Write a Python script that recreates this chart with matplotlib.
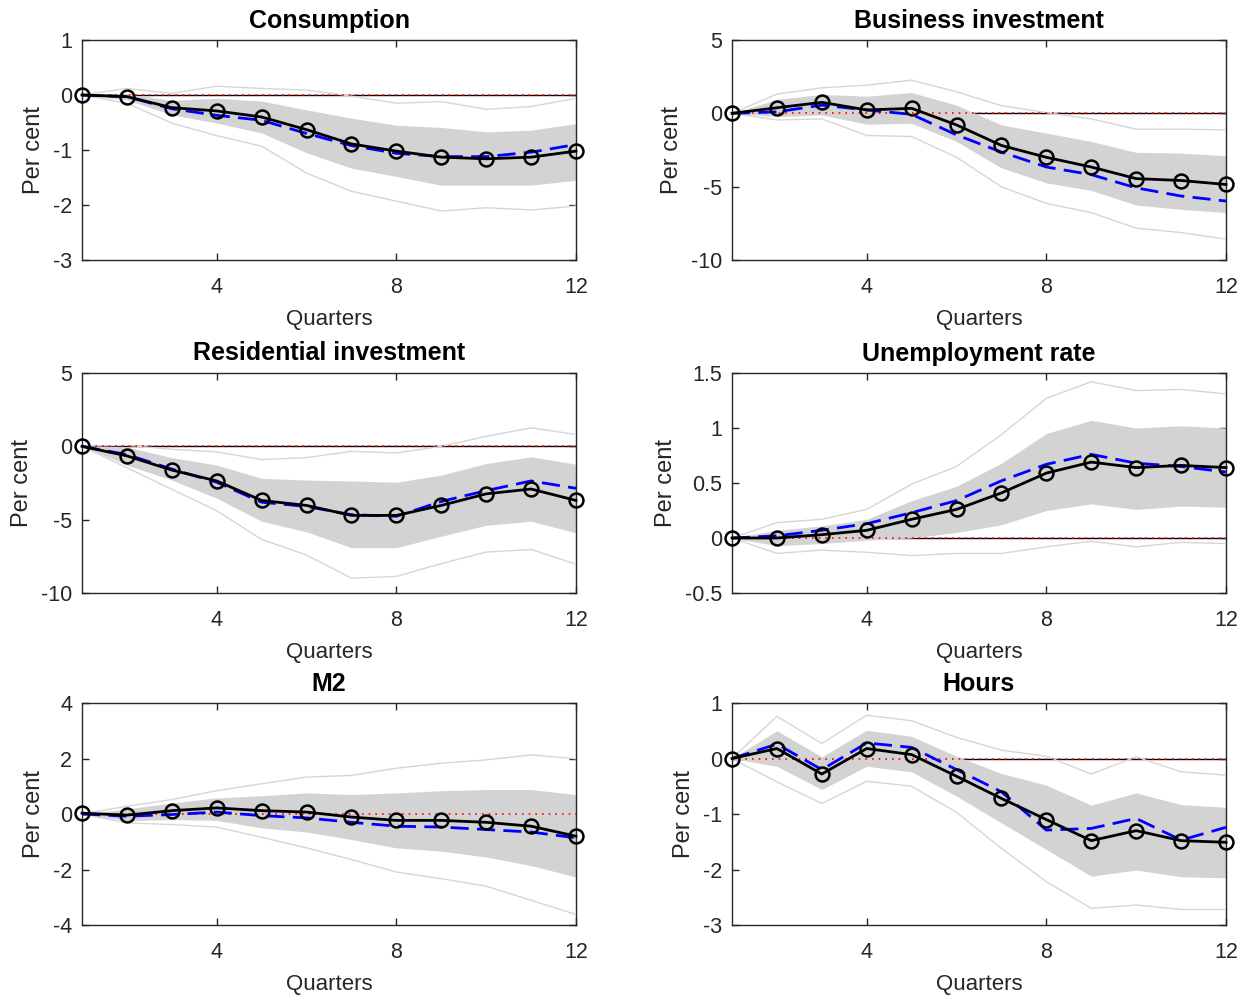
import matplotlib
matplotlib.use('Agg')
import matplotlib.pyplot as plt
import numpy as np

plt.rcParams['font.family'] = ['Liberation Sans', 'DejaVu Sans']
plt.rcParams['axes.unicode_minus'] = False

quarters = np.arange(1, 13)

# Consumption
cons_median = [0, -0.03, -0.23, -0.29, -0.40, -0.63, -0.89, -1.02, -1.13, -1.16, -1.13, -1.02]
cons_alt = [0, -0.03, -0.25, -0.37, -0.46, -0.70, -0.92, -1.06, -1.12, -1.12, -1.04, -0.90]
cons_band_hi = [0, 0.02, -0.10, -0.06, -0.11, -0.27, -0.42, -0.55, -0.59, -0.67, -0.64, -0.52]
cons_band_lo = [0, -0.09, -0.36, -0.51, -0.69, -1.05, -1.33, -1.48, -1.64, -1.64, -1.64, -1.55]
cons_out_hi = [0, 0.12, 0.03, 0.16, 0.12, 0.09, -0.02, -0.15, -0.12, -0.26, -0.21, -0.06]
cons_out_lo = [0, -0.15, -0.51, -0.74, -0.93, -1.42, -1.75, -1.93, -2.11, -2.05, -2.09, -2.02]

# Business investment
binv_median = [0, 0.38, 0.75, 0.23, 0.34, -0.79, -2.19, -3.00, -3.66, -4.45, -4.58, -4.85]
binv_alt = [0, 0.10, 0.56, 0.23, -0.07, -1.47, -2.64, -3.66, -4.18, -5.08, -5.64, -5.98]
binv_band_hi = [0, 0.95, 1.29, 1.17, 1.42, 0.56, -0.79, -1.35, -1.92, -2.66, -2.71, -2.89]
binv_band_lo = [0, -0.23, -0.11, -0.74, -0.68, -1.92, -3.72, -4.74, -5.26, -6.25, -6.55, -6.77]
binv_out_hi = [0, 1.31, 1.74, 1.92, 2.26, 1.47, 0.52, 0.05, -0.38, -1.08, -1.08, -1.13]
binv_out_lo = [0, -0.45, -0.38, -1.51, -1.58, -3.00, -5.01, -6.14, -6.77, -7.83, -8.13, -8.58]

# Residential investment
rinv_median = [0, -0.65, -1.62, -2.36, -3.69, -4.03, -4.71, -4.71, -4.03, -3.24, -2.91, -3.69]
rinv_alt = [0, -0.56, -1.55, -2.45, -3.81, -4.10, -4.66, -4.77, -3.76, -3.02, -2.36, -2.86]
rinv_band_hi = [0, -0.05, -0.77, -1.28, -2.18, -2.30, -2.36, -2.45, -1.96, -1.17, -0.72, -1.22]
rinv_band_lo = [0, -1.28, -2.30, -3.54, -5.11, -5.83, -6.91, -6.91, -6.13, -5.38, -5.11, -5.90]
rinv_out_hi = [0, 0.07, -0.20, -0.38, -0.90, -0.77, -0.34, -0.45, 0.0, 0.68, 1.26, 0.81]
rinv_out_lo = [0, -1.46, -2.93, -4.39, -6.35, -7.41, -8.99, -8.87, -8.00, -7.21, -7.03, -8.04]

# Unemployment rate
unemp_median = [0, 0.0, 0.03, 0.07, 0.17, 0.26, 0.41, 0.59, 0.69, 0.64, 0.66, 0.64]
unemp_alt = [0, 0.02, 0.07, 0.13, 0.23, 0.34, 0.52, 0.67, 0.76, 0.68, 0.65, 0.60]
unemp_band_hi = [0, 0.07, 0.11, 0.17, 0.34, 0.47, 0.68, 0.95, 1.07, 1.00, 1.02, 1.00]
unemp_band_lo = [0, -0.07, -0.05, -0.02, 0.0, 0.05, 0.12, 0.25, 0.31, 0.26, 0.29, 0.28]
unemp_out_hi = [0, 0.14, 0.17, 0.26, 0.49, 0.65, 0.94, 1.27, 1.42, 1.34, 1.35, 1.31]
unemp_out_lo = [0, -0.14, -0.11, -0.13, -0.16, -0.14, -0.14, -0.08, -0.03, -0.08, -0.04, -0.05]

# M2
m2_median = [0.03, -0.04, 0.12, 0.22, 0.12, 0.07, -0.11, -0.23, -0.23, -0.30, -0.44, -0.80]
m2_alt = [0, -0.08, -0.02, 0.07, -0.06, -0.14, -0.30, -0.44, -0.47, -0.56, -0.65, -0.86]
m2_band_hi = [0, 0.18, 0.40, 0.58, 0.66, 0.76, 0.70, 0.76, 0.84, 0.88, 0.88, 0.70]
m2_band_lo = [0, -0.24, -0.20, -0.23, -0.50, -0.65, -0.92, -1.22, -1.34, -1.55, -1.86, -2.27]
m2_out_hi = [0, 0.28, 0.52, 0.84, 1.09, 1.33, 1.39, 1.65, 1.83, 1.95, 2.13, 1.99]
m2_out_lo = [0, -0.32, -0.38, -0.47, -0.84, -1.22, -1.64, -2.09, -2.33, -2.60, -3.11, -3.62]

# Hours
hours_median = [0, 0.18, -0.28, 0.18, 0.07, -0.32, -0.72, -1.10, -1.48, -1.30, -1.48, -1.51]
hours_alt = [0, 0.26, -0.20, 0.28, 0.20, -0.20, -0.60, -1.29, -1.26, -1.08, -1.47, -1.24]
hours_band_hi = [0, 0.50, 0.03, 0.51, 0.40, 0.04, -0.27, -0.48, -0.84, -0.62, -0.83, -0.88]
hours_band_lo = [0, -0.14, -0.56, -0.14, -0.24, -0.68, -1.16, -1.64, -2.12, -2.01, -2.13, -2.15]
hours_out_hi = [0, 0.76, 0.27, 0.78, 0.68, 0.38, 0.15, 0.04, -0.28, 0.03, -0.24, -0.30]
hours_out_lo = [0, -0.42, -0.81, -0.41, -0.50, -0.97, -1.62, -2.22, -2.70, -2.64, -2.72, -2.72]

titles = ['Consumption', 'Business investment', 'Residential investment',
          'Unemployment rate', 'M2', 'Hours']
ylims = [(-3, 1), (-10, 5), (-10, 5), (-0.5, 1.5), (-4, 4), (-3, 1)]
yticks = [[-3, -2, -1, 0, 1], [-10, -5, 0, 5], [-10, -5, 0, 5],
          [-0.5, 0, 0.5, 1, 1.5], [-4, -2, 0, 2, 4], [-3, -2, -1, 0, 1]]
ytick_labels = [['-3', '-2', '-1', '0', '1'], ['-10', '-5', '0', '5'], ['-10', '-5', '0', '5'],
                ['-0.5', '0', '0.5', '1', '1.5'], ['-4', '-2', '0', '2', '4'],
                ['-3', '-2', '-1', '0', '1']]
series = [
    (cons_median, cons_alt, cons_band_hi, cons_band_lo, cons_out_hi, cons_out_lo),
    (binv_median, binv_alt, binv_band_hi, binv_band_lo, binv_out_hi, binv_out_lo),
    (rinv_median, rinv_alt, rinv_band_hi, rinv_band_lo, rinv_out_hi, rinv_out_lo),
    (unemp_median, unemp_alt, unemp_band_hi, unemp_band_lo, unemp_out_hi, unemp_out_lo),
    (m2_median, m2_alt, m2_band_hi, m2_band_lo, m2_out_hi, m2_out_lo),
    (hours_median, hours_alt, hours_band_hi, hours_band_lo, hours_out_hi, hours_out_lo),
]

W, H = 1247, 996
fig = plt.figure(figsize=(W / 100, H / 100), dpi=100)

col_x = [82, 732]
row_y = [(40, 260), (373, 593), (703, 925)]
ax_w = 494

spine_col = '#262626'

for i in range(6):
    r, c = divmod(i, 2)
    top, bot = row_y[r]
    left = col_x[c]
    ax = fig.add_axes([left / W, 1 - bot / H, ax_w / W, (bot - top) / H])
    med, alt, bhi, blo, ohi, olo = series[i]

    # zero line sits under the band, red dotted copy on top
    ax.axhline(0, color='black', lw=1.0, zorder=1)
    ax.fill_between(quarters, blo, bhi, color='#d3d3d3', lw=0, zorder=2)
    ax.plot(quarters, ohi, color='#d6d6d6', lw=1.0, zorder=3)
    ax.plot(quarters, olo, color='#d6d6d6', lw=1.0, zorder=3)
    ax.plot(quarters, np.zeros(12), color='red', ls=(0, (1, 3)), lw=1.2, zorder=4)
    ax.plot(quarters, alt, color='#0000ff', ls=(0, (6.5, 3)), lw=2.0, zorder=5)
    ax.plot(quarters, med, color='black', lw=2.0, marker='o', ms=10, mfc='none',
            mec='black', mew=1.8, zorder=6, clip_on=False)

    ax.set_xlim(1, 12)
    ax.set_ylim(*ylims[i])
    ax.set_xticks([4, 8, 12])
    ax.set_yticks(yticks[i])
    ax.set_yticklabels(ytick_labels[i])
    ax.tick_params(direction='in', top=True, right=True, length=5, width=1,
                   colors=spine_col, labelsize=15.5)
    ax.tick_params(axis='x', pad=12)
    ax.tick_params(axis='y', pad=7)
    for s in ax.spines.values():
        s.set_color(spine_col)
        s.set_linewidth(1.0)
    ax.set_title(titles[i], fontsize=18, fontweight='bold', pad=9)
    ax.set_xlabel('Quarters', fontsize=16, color=spine_col, labelpad=8)
    ax.set_ylabel('Per cent', fontsize=17, color=spine_col, labelpad=6)

fig.savefig('out.png', dpi=100)
